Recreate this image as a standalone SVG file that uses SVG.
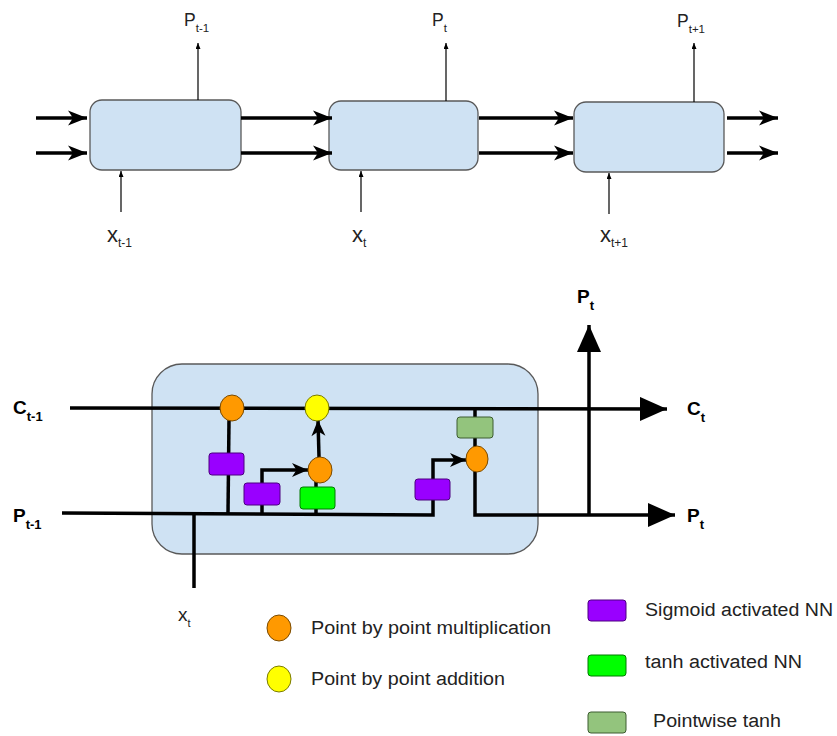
<svg xmlns="http://www.w3.org/2000/svg" width="837" height="736" viewBox="0 0 837 736">
<defs>
<marker id="ah" markerUnits="userSpaceOnUse" markerWidth="20" markerHeight="16" refX="19" refY="8" orient="auto" overflow="visible"><path d="M0,0.5 L19,8 L0,15.5 L5,8 Z" fill="#000"/></marker>
<marker id="sm" markerUnits="userSpaceOnUse" markerWidth="7" markerHeight="6" refX="6" refY="2.5" orient="auto"><path d="M0,0 L6,2.5 L0,5 Z" fill="#000"/></marker>
<marker id="big" markerUnits="userSpaceOnUse" markerWidth="28" markerHeight="24" refX="27" refY="12" orient="auto"><path d="M0,0 L27,12 L0,24 Z" fill="#000"/></marker>
<marker id="chev" markerUnits="userSpaceOnUse" markerWidth="17" markerHeight="16" refX="16" refY="8" orient="auto" overflow="visible"><path d="M0,1 L16,8 L0,15 L4.5,8 Z" fill="#000"/></marker>
</defs>
<style>
.box{fill:#cfe2f3;stroke:#595959;stroke-width:1.3}
.thick{stroke:#000;stroke-width:3.5;fill:none}
.thin{stroke:#000;stroke-width:1.2;fill:none}
.line{stroke:#000;stroke-width:3.5;fill:none}
.t{font-family:"Liberation Sans",Arial,sans-serif;fill:#222}
.b{font-family:"Liberation Sans",Arial,sans-serif;font-weight:bold;fill:#000}
.or{fill:#ff9900;stroke:#7a4a00;stroke-width:1}
.ye{fill:#ffff00;stroke:#7a7a00;stroke-width:1}
.pu{fill:#9900ff;stroke:#4c0080;stroke-width:1}
.gr{fill:#00ff00;stroke:#007a00;stroke-width:1}
.sg{fill:#93c47d;stroke:#3d5c30;stroke-width:1}
</style>

<g id="cell1"><rect class="box" x="90" y="100" width="151" height="70" rx="12"/></g>
<g id="cell2"><rect class="box" x="329" y="101" width="149" height="69" rx="12"/></g>
<g id="cell3"><rect class="box" x="574" y="102" width="150" height="70" rx="12"/></g>

<g id="top-connectors">
<line class="thick" x1="36" y1="118" x2="87" y2="118" marker-end="url(#ah)"/>
<line class="thick" x1="36" y1="153" x2="87" y2="153" marker-end="url(#ah)"/>
<line class="thick" x1="241" y1="118" x2="332" y2="118" marker-end="url(#ah)"/>
<line class="thick" x1="241" y1="153" x2="332" y2="153" marker-end="url(#ah)"/>
<line class="thick" x1="479" y1="118" x2="573" y2="118" marker-end="url(#ah)"/>
<line class="thick" x1="479" y1="153" x2="573" y2="153" marker-end="url(#ah)"/>
<line class="thick" x1="727" y1="118" x2="778" y2="118" marker-end="url(#ah)"/>
<line class="thick" x1="727" y1="153" x2="778" y2="153" marker-end="url(#ah)"/>
<line class="thin" x1="198" y1="100" x2="198" y2="43" marker-end="url(#sm)"/>
<line class="thin" x1="446" y1="101" x2="446" y2="43" marker-end="url(#sm)"/>
<line class="thin" x1="694" y1="102" x2="694" y2="43" marker-end="url(#sm)"/>
<line class="thin" x1="121" y1="212" x2="121" y2="171" marker-end="url(#sm)"/>
<line class="thin" x1="361" y1="212" x2="361" y2="171" marker-end="url(#sm)"/>
<line class="thin" x1="609" y1="214" x2="609" y2="173" marker-end="url(#sm)"/>
</g>

<g id="top-labels">
<text class="t" x="184" y="26" font-size="17.5">P<tspan font-size="11.5" dy="6">t-1</tspan></text>
<text class="t" x="432" y="26" font-size="17.5">P<tspan font-size="11.5" dy="6">t</tspan></text>
<text class="t" x="677" y="27" font-size="17.5">P<tspan font-size="11.5" dy="6">t+1</tspan></text>
<text class="t" x="107" y="242" font-size="22">x<tspan font-size="12" dy="5">t-1</tspan></text>
<text class="t" x="352" y="242" font-size="22">x<tspan font-size="12" dy="5">t</tspan></text>
<text class="t" x="600" y="242" font-size="22">x<tspan font-size="12" dy="5">t+1</tspan></text>
</g>

<g id="cell-detail"><rect class="box" x="152" y="364" width="386" height="190" rx="30"/></g>

<g id="connectors">
<line class="line" x1="70" y1="408" x2="667" y2="409" marker-end="url(#big)"/>
<polyline class="line" points="62,513 433,515 433,460 466,460" marker-end="url(#chev)"/>
<polyline class="line" points="475,470 475,515 675,515" marker-end="url(#big)"/>
<line class="line" x1="589" y1="515" x2="589" y2="325" marker-end="url(#big)"/>
<line class="line" x1="475" y1="409" x2="475" y2="448"/>
<line class="line" x1="194" y1="513" x2="194" y2="588"/>
<line class="line" x1="229" y1="420" x2="228" y2="514"/>
<polyline class="line" points="262,514 262,470 308,470" marker-end="url(#chev)"/>
<line class="line" x1="316" y1="514" x2="316" y2="482"/>
<line class="line" x1="319" y1="457" x2="318" y2="420" marker-end="url(#chev)"/>
</g>

<g id="mul1"><ellipse class="or" cx="232" cy="408" rx="12" ry="13"/></g>
<g id="add1"><ellipse class="ye" cx="317" cy="408" rx="12" ry="13"/></g>
<g id="mul2"><ellipse class="or" cx="320" cy="470" rx="12" ry="13"/></g>
<g id="mul3"><ellipse class="or" cx="477" cy="459" rx="11" ry="13"/></g>
<g id="sig1"><rect class="pu" x="209" y="453" width="35" height="22" rx="3"/></g>
<g id="sig2"><rect class="pu" x="244" y="483" width="36" height="22" rx="3"/></g>
<g id="tanh1"><rect class="gr" x="300" y="487" width="35" height="22" rx="3"/></g>
<g id="sig3"><rect class="pu" x="415" y="479" width="35" height="21" rx="3"/></g>
<g id="ptanh"><rect class="sg" x="457" y="417" width="36" height="21" rx="3"/></g>

<g id="bottom-labels">
<text class="b" x="13" y="414" font-size="19">C<tspan font-size="13" dy="7">t-1</tspan></text>
<text class="b" x="13" y="522" font-size="19">P<tspan font-size="13" dy="7">t-1</tspan></text>
<text class="b" x="687" y="415" font-size="19">C<tspan font-size="13" dy="7">t</tspan></text>
<text class="b" x="687" y="522" font-size="19">P<tspan font-size="13" dy="7">t</tspan></text>
<text class="b" x="577" y="303" font-size="19">P<tspan font-size="13" dy="7">t</tspan></text>
<text class="t" x="178" y="621" font-size="19">x<tspan font-size="11" dy="6">t</tspan></text>
</g>

<g id="legend">
<ellipse class="or" cx="279" cy="628" rx="12" ry="13"/>
<text class="t" x="311" y="634" font-size="18" textLength="240" lengthAdjust="spacingAndGlyphs">Point by point multiplication</text>
<ellipse class="ye" cx="279" cy="679" rx="12" ry="13"/>
<text class="t" x="311" y="685" font-size="18" textLength="194" lengthAdjust="spacingAndGlyphs">Point by point addition</text>
<rect class="pu" x="588" y="600" width="38" height="21" rx="3"/>
<text class="t" x="645" y="616" font-size="18" textLength="188" lengthAdjust="spacingAndGlyphs">Sigmoid activated NN</text>
<rect class="gr" x="588" y="655" width="38" height="21" rx="3"/>
<text class="t" x="645" y="668" font-size="18" textLength="157" lengthAdjust="spacingAndGlyphs">tanh activated NN</text>
<rect class="sg" x="588" y="712" width="38" height="21" rx="3"/>
<text class="t" x="653" y="727" font-size="18" textLength="128" lengthAdjust="spacingAndGlyphs">Pointwise tanh</text>
</g>
</svg>
